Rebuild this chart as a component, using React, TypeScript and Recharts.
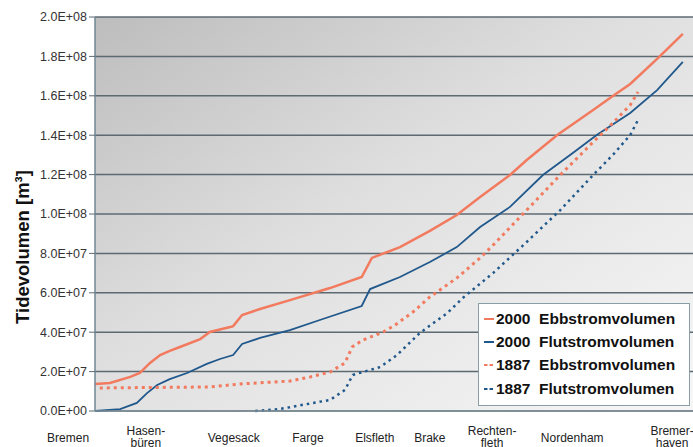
import { LineChart, Line, XAxis, YAxis, CartesianGrid } from "recharts";

// stations along the river (x position in axis units)
const stations = ["Bremen", "Hasen-\nbüren", "Vegesack", "Farge", "Elsfleth", "Brake", "Rechten-\nfleth", "Nordenham", "Bremer-\nhaven"];
const stationPos = [-4.5, 8.5, 23.2, 35.6, 46.8, 56.0, 66.4, 79.8, 96.5];

const yTicks = [0, 2e7, 4e7, 6e7, 8e7, 1e8, 1.2e8, 1.4e8, 1.6e8, 1.8e8, 2e8];

// volumes in Mio. m3
const ebb2000Pos = [0, 2.5, 5.9, 7.5, 9.2, 10.9, 12.5, 14.2, 17.6, 19.2, 22.6, 23.1, 24.6, 27.6, 32.6, 39.3, 44.6, 46.3, 51.0, 56.0, 60.5, 64.4, 69.4, 72.2, 77.3, 83.3, 86.6, 89.5, 94.0, 98.3];
const ebb2000Vol = [13.7, 14.2, 17.3, 19.3, 24.4, 28.4, 30.5, 32.5, 36.5, 40.1, 42.6, 43.1, 48.7, 51.8, 56.3, 62.4, 68.0, 77.7, 83.2, 91.4, 99.5, 108.6, 119.8, 127.4, 140.1, 152.8, 159.9, 166.0, 178.7, 191.4];

const flut2000Pos = [0, 4.2, 7.0, 8.7, 10.4, 12.5, 15.4, 18.7, 20.9, 23.1, 24.6, 27.6, 32.6, 37.6, 44.6, 46.0, 51.0, 56.0, 60.5, 64.4, 69.4, 74.9, 79.9, 83.9, 89.5, 94.0, 98.3];
const flut2000Vol = [0, 1.0, 4.1, 9.1, 13.2, 16.2, 19.3, 23.9, 26.4, 28.4, 34.0, 37.1, 41.1, 46.2, 53.3, 61.9, 68.0, 75.6, 83.2, 93.4, 103.6, 119.8, 131.0, 140.1, 151.3, 162.9, 177.2];

const ebb1887Pos = [0.8, 19.2, 24.2, 32.6, 36.0, 39.3, 41.8, 43.0, 44.8, 48.2, 50.2, 53.2, 56.0, 60.5, 64.4, 66.6, 72.2, 77.8, 83.3, 86.6, 89.5, 90.8];
const ebb1887Vol = [11.7, 12.2, 13.7, 15.2, 17.3, 19.8, 24.4, 32.5, 36.0, 40.1, 43.7, 50.3, 57.9, 67.5, 77.7, 84.3, 102.0, 119.8, 136.5, 146.2, 155.3, 161.9];

const flut1887Pos = [26.8, 30.9, 36.5, 39.3, 41.8, 43.1, 44.8, 47.7, 50.5, 54.3, 58.9, 61.5, 66.6, 72.2, 77.8, 83.3, 86.6, 89.5, 90.8];
const flut1887Vol = [0, 1.0, 4.1, 5.6, 10.7, 18.3, 19.8, 22.3, 28.4, 39.6, 49.7, 57.4, 70.1, 85.8, 102.0, 119.8, 130.0, 140.1, 147.7];

const ORANGE = "#f27a5e";
const BLUE = "#20588c";
const FONT = "Liberation Sans, Arial, sans-serif";

const toPoints = (pos: number[], vol: number[]) => pos.map((x, i) => ({ x, v: vol[i] * 1e6 }));

const series = [
  { name: "2000  Ebbstromvolumen", data: toPoints(ebb2000Pos, ebb2000Vol), color: ORANGE, width: 2.5, dash: undefined },
  { name: "2000  Flutstromvolumen", data: toPoints(flut2000Pos, flut2000Vol), color: BLUE, width: 1.8, dash: undefined },
  { name: "1887  Ebbstromvolumen", data: toPoints(ebb1887Pos, ebb1887Vol), color: ORANGE, width: 3, dash: "3 4" },
  { name: "1887  Flutstromvolumen", data: toPoints(flut1887Pos, flut1887Vol), color: BLUE, width: 2.5, dash: "2.5 4" },
];

function sciFormat(v: number) {
  if (v === 0) return "0.0E+00";
  const exp = Math.floor(Math.log10(v));
  const m = (v / Math.pow(10, exp)).toFixed(1);
  return `${m}E+${String(exp).padStart(2, "0")}`;
}

function StationTick({ x, y, payload }: any) {
  const idx = stationPos.indexOf(payload.value);
  const lines = (stations[idx] ?? "").split("\n");
  return (
    <text x={x} y={y} textAnchor="middle" fontSize={12} fill="#222" fontFamily={FONT}>
      {lines.length === 1 ? (
        <tspan x={x} dy={23}>{lines[0]}</tspan>
      ) : (
        <>
          <tspan x={x} dy={16}>{lines[0]}</tspan>
          <tspan x={x} dy={12}>{lines[1]}</tspan>
        </>
      )}
    </text>
  );
}

function LegendBox() {
  return (
    <div style={{
      position: "absolute",
      left: 478,
      top: 303,
      background: "#fff",
      border: "1.5px solid #8a9ea8",
      width: 212,
      height: 103,
      boxSizing: "border-box",
      padding: "3px 0 0 5px",
      fontFamily: FONT,
      fontWeight: 700,
      fontSize: 15.5,
      color: "#111",
    }}>
      {series.map((s) => (
        <div key={s.name} style={{ display: "flex", alignItems: "center", height: 23.3, whiteSpace: "pre" }}>
          <svg width={10} height={6} style={{ marginRight: 2 }}>
            <line x1={0} y1={3} x2={10} y2={3} stroke={s.color} strokeWidth={2} strokeDasharray={s.dash ? "3.5 2" : undefined} />
          </svg>
          {s.name}
        </div>
      ))}
    </div>
  );
}

export default function App() {
  return (
    <div style={{ position: "absolute", left: 0, top: 0, width: 693, height: 447, background: "#fff", overflow: "hidden" }}>
      <LineChart width={693} height={447} margin={{ top: 17, right: 0, left: 0, bottom: 0 }}>
        <defs>
          <linearGradient id="plotBg" x1="0" y1="0" x2="1" y2="1">
            <stop offset="0%" stopColor="#bdbdbd" />
            <stop offset="45%" stopColor="#dfdfdf" />
            <stop offset="100%" stopColor="#f7f7f7" />
          </linearGradient>
        </defs>
        <CartesianGrid vertical={false} fill="url(#plotBg)" stroke="#5d6a72" strokeWidth={1.5} fillOpacity={1} />
        <XAxis
          type="number"
          dataKey="x"
          domain={[0, 100]}
          ticks={stationPos}
          interval={0}
          allowDataOverflow
          tick={<StationTick />}
          tickLine={false}
          axisLine={{ stroke: "#7f9098", strokeWidth: 1.5 }}
          height={36}
        />
        <YAxis
          type="number"
          dataKey="v"
          domain={[0, 2e8]}
          ticks={yTicks}
          interval={0}
          width={95}
          tickFormatter={sciFormat}
          tick={{ fontSize: 12.5, fill: "#333", fontFamily: FONT }}
          tickLine={{ stroke: "#5d6a72" }}
          tickSize={6}
          axisLine={{ stroke: "#6f8794", strokeWidth: 1.5 }}
          label={{
            content: ({ viewBox }: any) => (
              <text
                x={viewBox.x + 22}
                y={viewBox.y + viewBox.height / 2 + 33}
                transform={`rotate(-90, ${viewBox.x + 22}, ${viewBox.y + viewBox.height / 2 + 33})`}
                textAnchor="middle"
                dominantBaseline="central"
                fontSize={18.5}
                fontWeight={700}
                fill="#111"
                fontFamily={FONT}
              >
                Tidevolumen  [m³]
              </text>
            ),
          }}
        />
        {series.map((s) => (
          <Line
            key={s.name}
            data={s.data}
            dataKey="v"
            name={s.name}
            type="linear"
            stroke={s.color}
            strokeWidth={s.width}
            strokeDasharray={s.dash}
            dot={false}
            isAnimationActive={false}
          />
        ))}
      </LineChart>
      <LegendBox />
    </div>
  );
}
